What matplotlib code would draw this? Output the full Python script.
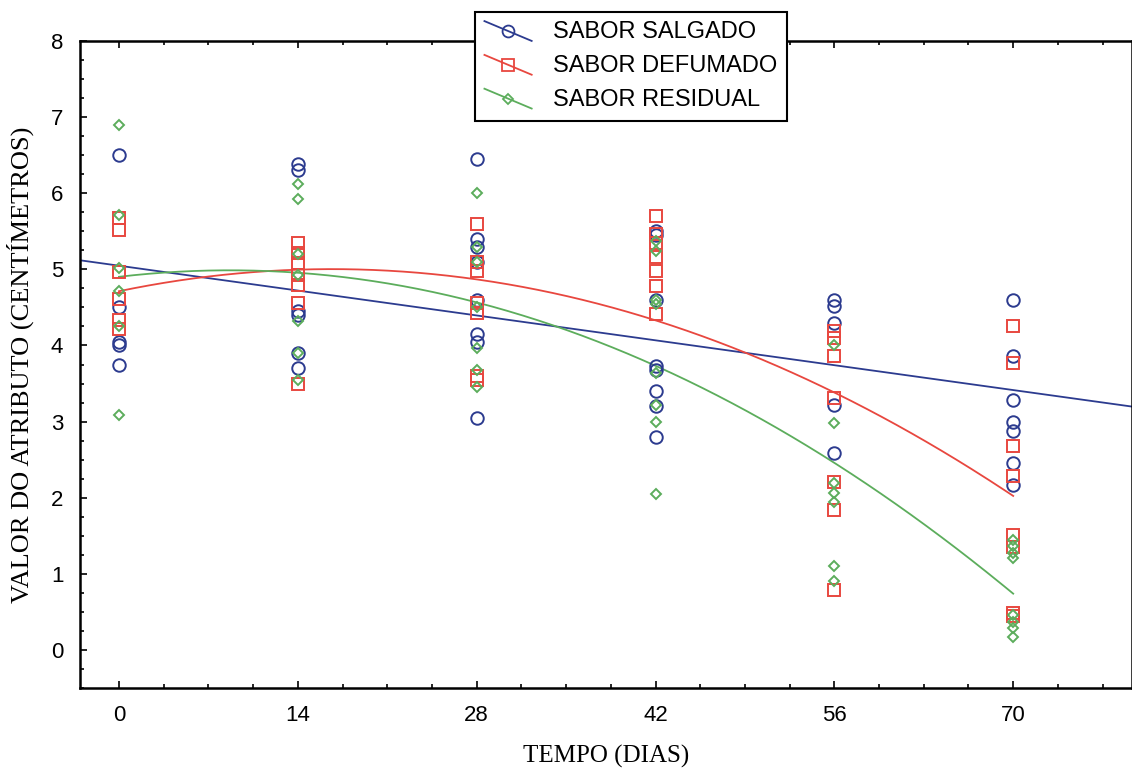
import matplotlib as mpl
mpl.use('Agg')                                  # no screen
import matplotlib.pyplot as plt
from matplotlib.lines import Line2D
from matplotlib.legend_handler import HandlerLine2D
from matplotlib.ticker import MultipleLocator
import numpy as np


dias = [0, 14, 28, 42, 56, 70]                  # tempo (dias)

salgado = [                                     # blue circles
    [6.5, 4.5, 4.05, 4.0, 3.75],
    [6.38, 6.3, 4.45, 4.4, 3.9, 3.7],
    [6.45, 5.4, 5.3, 5.1, 4.6, 4.15, 4.05, 3.05],
    [5.5, 5.45, 4.6, 3.73, 3.68, 3.4, 3.2, 2.8],
    [4.6, 4.52, 4.3, 3.22, 2.59],
    [4.6, 3.86, 3.29, 3.0, 2.87, 2.46, 2.17],
]
defumado = [                                    # red squares
    [5.68, 5.52, 4.96, 4.61, 4.34, 4.21],
    [5.35, 5.22, 5.09, 4.93, 4.8, 4.56, 3.49],
    [5.6, 5.1, 4.98, 4.56, 4.43, 3.6, 3.55],
    [5.7, 5.46, 5.35, 5.16, 4.98, 4.78, 4.41],
    [4.19, 4.1, 3.86, 3.31, 2.21, 1.84, 0.79],
    [4.26, 3.77, 2.68, 2.28, 1.51, 1.35, 0.49, 0.44],
]
residual = [                                    # green diamonds
    [6.89, 5.72, 5.02, 4.71, 4.25, 3.08],
    [6.12, 5.92, 5.2, 4.93, 4.32, 3.9, 3.55],
    [6.0, 5.29, 5.1, 4.5, 3.97, 3.68, 3.46],
    [5.37, 5.24, 4.6, 4.55, 3.64, 3.22, 3.0, 2.05],
    [4.01, 2.98, 2.19, 2.06, 1.95, 1.1, 0.9],
    [1.45, 1.36, 1.27, 1.21, 0.46, 0.37, 0.29, 0.17],
]
nomes = ["SABOR SALGADO", "SABOR DEFUMADO", "SABOR RESIDUAL"]
cores = ["#2c3b8f", "#e8473f", "#5cad5c"]
marcas = ["o", "s", "D"]
graus = [1, 2, 2]                               # fit degree of each curve

xmin, xmax = -3.05, 79.3


class Diagonal(HandlerLine2D):                  # slanted legend line with marker in the middle
    def create_artists(self, legend, orig_handle, xdescent, ydescent,
                       width, height, fontsize, trans):
        x0, x1 = -xdescent, -xdescent + width
        y0, y1 = -ydescent + height * 1.05, -ydescent - height * 0.15
        linha = Line2D([x0, x1], [y0, y1])
        self.update_prop(linha, orig_handle, legend)
        linha.set_marker('None')
        linha.set_transform(trans)
        ponto = Line2D([(x0 + x1) / 2], [(y0 + y1) / 2])
        self.update_prop(ponto, orig_handle, legend)
        ponto.set_linestyle('None')
        ponto.set_transform(trans)
        return [linha, ponto]


fig = plt.figure(figsize=(11.32, 7.74), dpi=100)
ax = fig.add_axes([80 / 1132, 86 / 774, 1 - 80 / 1132, (688 - 41) / 774])

handles = []
for serie, nome, cor, m, g in zip([salgado, defumado, residual], nomes, cores, marcas, graus):
    xs = np.concatenate([[d] * len(v) for d, v in zip(dias, serie)])
    ys = np.concatenate(serie)
    ms = 5.5 if m == "D" else 9
    ax.plot(xs, ys, linestyle='None', marker=m, ms=ms, mfc='none', mec=cor, mew=1.4,
            clip_on=False, zorder=3)
    coef = np.polyfit(xs, ys, g)                # regression like in the original
    xf = np.linspace(xmin, xmax, 300) if g == 1 else np.linspace(dias[0], dias[-1], 300)
    ax.plot(xf, np.polyval(coef, xf), color=cor, lw=1.3, zorder=2)
    handles.append(Line2D([], [], color=cor, lw=1.3, marker=m, ms=ms * 0.95,
                          mfc='none', mec=cor, mew=1.3))

ax.set_xlim(xmin, xmax)
ax.set_ylim(-0.5, 8)
ax.set_xticks(dias)
ax.set_yticks(range(0, 9))
ax.xaxis.set_minor_locator(MultipleLocator(3.5))
ax.yaxis.set_minor_locator(MultipleLocator(0.25))
ax.tick_params(which='both', direction='in', top=True, right=False, width=1.2)
ax.tick_params(which='major', length=5, labelsize=16, pad=12)
ax.tick_params(which='minor', length=3)
for lab in ax.get_xticklabels() + ax.get_yticklabels():
    lab.set_family('Liberation Sans')
for s in ax.spines.values():
    s.set_linewidth(1.8)

ax.set_xlabel("TEMPO (DIAS)", family='Liberation Serif', fontsize=18, labelpad=14)
ax.set_ylabel("VALOR DO ATRIBUTO (CENTÍMETROS)", family='Liberation Serif', fontsize=19,
              labelpad=12)

leg = fig.legend(handles, nomes, loc='upper left', bbox_to_anchor=(475 / 1132, 1 - 12 / 774),
                 prop={'family': 'Liberation Sans', 'size': 17}, frameon=True,
                 fancybox=False, framealpha=1, edgecolor='black', borderpad=0.4,
                 handlelength=2.0, handletextpad=0.9, labelspacing=0.5, borderaxespad=0,
                 handler_map={Line2D: Diagonal()})
leg.get_frame().set_linewidth(1.5)

fig.savefig('out.png', dpi=100)                 # save to out.png
